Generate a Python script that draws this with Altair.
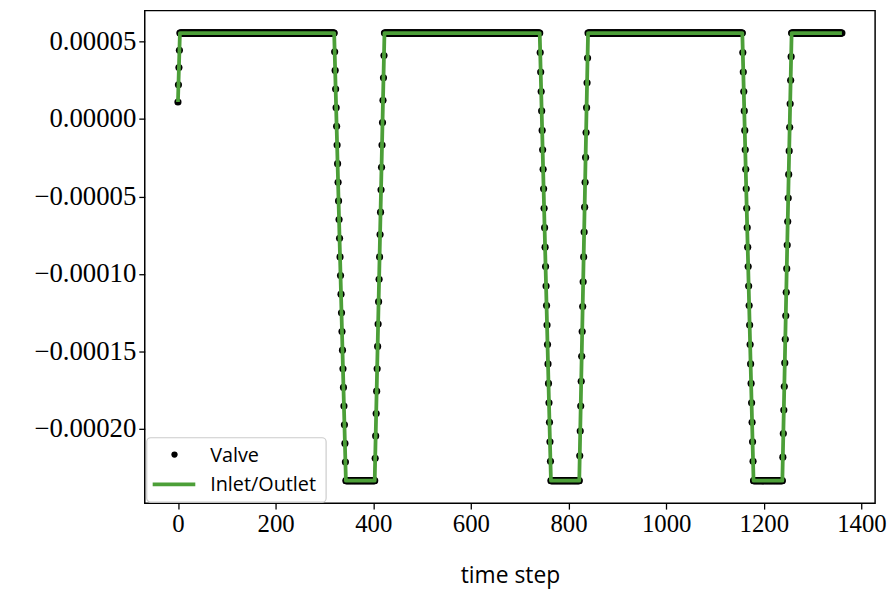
import numpy as np
import pandas as pd
import altair as alt

# Breakpoints of the piecewise-linear signal (time step, value)
break_steps = [0, 4, 320, 344, 403, 423, 741, 764, 822, 840, 1156, 1179, 1238, 1257, 1360]
break_values = [1.1e-5, 5.55e-5, 5.55e-5, -2.335e-4, -2.335e-4, 5.55e-5,
                5.55e-5, -2.335e-4, -2.335e-4, 5.55e-5,
                5.55e-5, -2.335e-4, -2.335e-4, 5.55e-5, 5.55e-5]
x_ticks = [0, 200, 400, 600, 800, 1000, 1200, 1400]
y_ticks = [-0.0002, -0.00015, -0.0001, -0.00005, 0.0, 0.00005]
legend_labels = ["Valve", "Inlet/Outlet"]

GREEN = "#4c9f38"

# Valve is sampled at every time step
steps = np.arange(break_steps[0], break_steps[-1] + 1)
valve_values = np.interp(steps, break_steps, break_values)
df_valve = pd.DataFrame({"step": steps, "value": valve_values})
df_line = pd.DataFrame({"step": break_steps, "value": break_values})

x_scale = alt.Scale(domain=[-68, 1428], nice=False, zero=False)
y_scale = alt.Scale(domain=[-0.000248, 0.00007], nice=False, zero=False)

x_enc = alt.X("step:Q", scale=x_scale,
              axis=alt.Axis(values=x_ticks, format="d", title="time step",
                            labelFontSize=25, titleFontSize=23, titlePadding=28))
y_enc = alt.Y("value:Q", scale=y_scale,
              axis=alt.Axis(values=y_ticks, format=".5f", title=None, labelFontSize=27))

dots = alt.Chart(df_valve).mark_circle(color="black", opacity=1, size=52).encode(
    x=x_enc, y=y_enc)
line = alt.Chart(df_line).mark_line(color=GREEN, strokeWidth=3.8, strokeJoin="round").encode(
    x=x_enc, y=y_enc)

one = pd.DataFrame({"k": [0]})
legend_box = alt.Chart(one).mark_rect(
    fill="white", fillOpacity=0.85, stroke="#cccccc", strokeWidth=1.2, cornerRadius=4
).encode(x=alt.value(2), x2=alt.value(183), y=alt.value(431), y2=alt.value(496))
legend_dot = alt.Chart(one).mark_circle(color="black", opacity=1, size=40).encode(
    x=alt.value(30), y=alt.value(448))
legend_line = alt.Chart(one).mark_rule(color=GREEN, strokeWidth=3.8).encode(
    x=alt.value(8), x2=alt.value(51), y=alt.value(478))
legend_text1 = alt.Chart(one).mark_text(
    align="left", baseline="middle", font="Open Sans", fontSize=20, color="black",
    text=legend_labels[0]
).encode(x=alt.value(66), y=alt.value(449))
legend_text2 = alt.Chart(one).mark_text(
    align="left", baseline="middle", font="Open Sans", fontSize=20, color="black",
    text=legend_labels[1]
).encode(x=alt.value(66), y=alt.value(479))

chart = alt.layer(
    dots, line, legend_box, legend_dot, legend_line, legend_text1, legend_text2
).properties(
    width=737, height=497,
    autosize=alt.AutoSizeParams(type="none"),
    padding={"left": 138, "top": 0, "right": 12, "bottom": 86},
).configure_view(
    stroke="black", strokeWidth=1.5
).configure_axis(
    grid=False, domain=False,
    labelFont="Liberation Serif", labelColor="black",
    tickColor="black", tickSize=6, tickWidth=1.3, labelPadding=3,
    titleFont="Open Sans", titleFontWeight="normal", titleColor="black",
)

chart.save("out.html", embed_options={"renderer": "svg", "actions": False})
